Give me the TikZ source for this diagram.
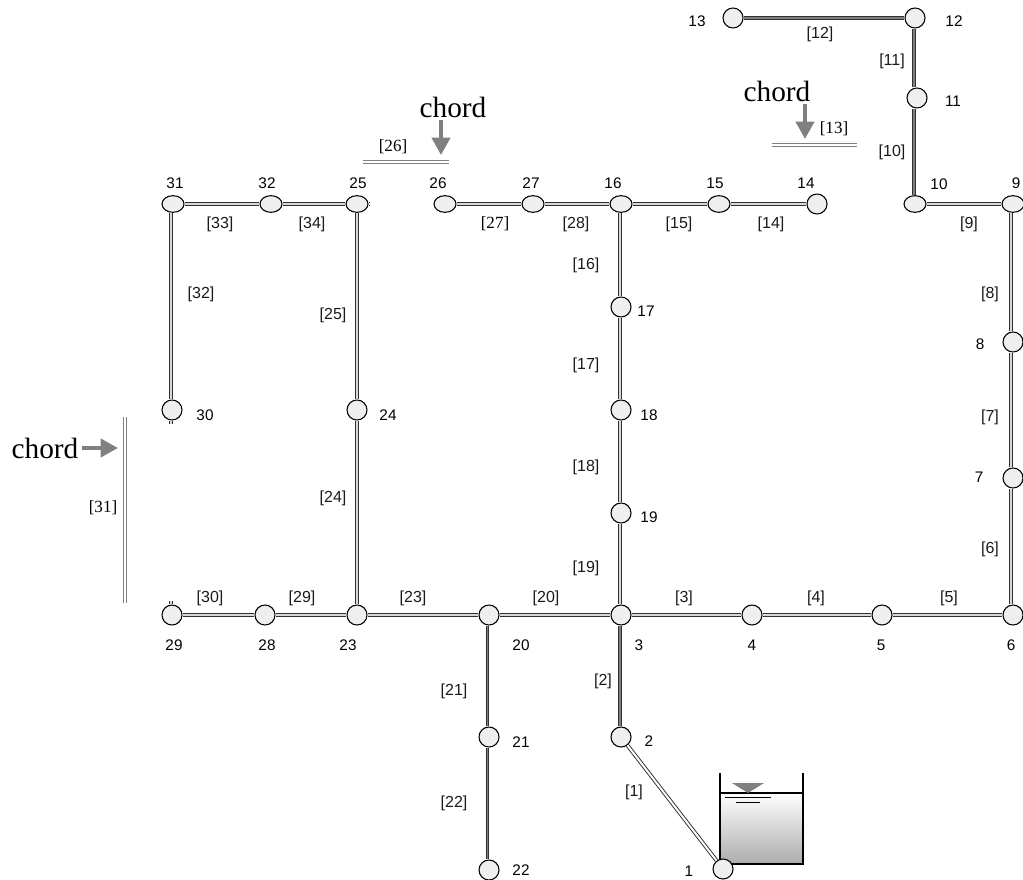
\documentclass[tikz,border=0pt]{standalone}
\usepackage{xcolor}
\usepackage{fontspec}
\setmainfont{Liberation Sans}
\newfontfamily\chordfont{Liberation Serif}
\usetikzlibrary{calc,positioning,shapes.geometric,arrows.meta}
\definecolor{pipeline}{HTML}{303030}
\definecolor{pipecore}{HTML}{D8D8D8}
\definecolor{junction}{HTML}{EFEFEF}
\definecolor{chordgray}{HTML}{808080}
\definecolor{tankgray}{HTML}{ACACAC}
\definecolor{labeltext}{HTML}{1A1A1A}
\begin{document}
\begin{tikzpicture}[
  x=0.75pt, y=-0.75pt,
  roundnode/.style={
    circle, draw=black, line width=0.8pt, fill=junction,
    minimum size=15pt, inner sep=0pt,
  },
  flatnode/.style={
    ellipse, draw=black, line width=0.8pt, fill=junction,
    minimum width=16.5pt, minimum height=12.5pt, inner sep=0pt,
  },
  numlabel/.style={font=\fontsize{11.5}{13}\selectfont, text=black, inner sep=0pt},
  pipelabel/.style={font=\fontsize{12}{14}\selectfont, text=labeltext, inner sep=0pt},
  seriflabel/.style={font=\chordfont\fontsize{12.8}{14}\selectfont, text=black, inner sep=0pt},
  chordlabel/.style={font=\chordfont\fontsize{22}{24}\selectfont, anchor=base, inner sep=0pt},
  pipe/.style={draw=pipeline, line width=0.85pt, double=pipecore, double distance=1pt},
  darkpipe/.style={draw=pipeline, line width=0.85pt, double=gray, double distance=1pt},
  openpipe/.style={draw=pipeline, line width=0.7pt, double=white, double distance=1.5pt},
  chordline/.style={draw=chordgray, line width=0.9pt, double=white, double distance=1pt},
  chordarrow/.style={draw=chordgray, line width=3pt, -{Triangle[length=13pt,width=13.5pt]}},
]
\useasboundingbox (0,0) rectangle (1023,880);

% Tank
\shade[top color=white, bottom color=tankgray] (720,793) rectangle (803,864);
\draw[line width=0.8pt] (803,793) -- (720,793);
\draw[line width=0.9pt] (720,773) -- (720,864) -- (803,864) -- (803,773);
\fill[gray] (732,783) -- (764,783) -- (748,793) -- cycle;
\draw[line width=0.7pt] (725,797) -- (771,797);
\draw[line width=0.7pt] (736,802) -- (760,802);

% Lower main
\node[roundnode] (n1) at (723, 869) {};
\node[roundnode] (n2) at (621, 737) {};
\node[roundnode] (n3) at (621, 615) {};
\node[roundnode] (n4) at (752, 615) {};
\node[roundnode] (n5) at (882, 615) {};
\node[roundnode] (n6) at (1013, 615) {};
\node[roundnode] (n7) at (1013, 478) {};
\node[roundnode] (n8) at (1013, 342) {};
\node[flatnode] (n9) at (1013, 204) {};
\node[flatnode] (n10) at (915, 204) {};
\node[roundnode] (n11) at (917, 98) {};
\node[roundnode] (n12) at (915, 18) {};
\node[roundnode] (n13) at (733, 18) {};

% Upper main
\node[roundnode] (n14) at (817, 204) {};
\node[flatnode] (n15) at (719, 204) {};
\node[flatnode] (n16) at (621, 204) {};
\node[roundnode] (n17) at (621, 307) {};
\node[roundnode] (n18) at (621, 410) {};
\node[roundnode] (n19) at (621, 513) {};
\node[roundnode] (n20) at (489, 615) {};
\node[roundnode] (n21) at (489, 737) {};
\node[roundnode] (n22) at (489, 870) {};
\node[roundnode] (n23) at (357, 615) {};
\node[roundnode] (n24) at (357, 410) {};
\node[flatnode] (n25) at (357, 204) {};
\node[flatnode] (n26) at (445, 204) {};
\node[flatnode] (n27) at (533, 204) {};
\node[roundnode] (n28) at (265, 615) {};
\node[roundnode] (n29) at (172, 615) {};
\node[roundnode] (n30) at (172, 410) {};
\node[flatnode] (n31) at (173, 204) {};
\node[flatnode] (n32) at (271, 204) {};

% Free ends
\coordinate (e25) at (370, 204);
\coordinate (e29) at (171, 601);
\coordinate (e30) at (171, 424);

% Pipes
\draw[openpipe] (n2) -- (n1);
\draw[darkpipe] ([xshift=-0.75pt]n3.south) -- ([xshift=-0.75pt]n2.north);
\draw[pipe] (n3) -- (n4);
\draw[pipe] (n4) -- (n5);
\draw[pipe] (n5) -- (n6);
\draw[pipe] ([xshift=-1.5pt]n6.north) -- ([xshift=-1.5pt]n7.south);
\draw[pipe] ([xshift=-1.5pt]n7.north) -- ([xshift=-1.5pt]n8.south);
\draw[pipe] ([xshift=-1.5pt]n8.north) -- ([xshift=-1.5pt]n9.south);
\draw[pipe] (n9) -- (n10);
\draw[darkpipe] ([xshift=-0.75pt]n10.north) -- ([xshift=-0.75pt]n10.north |- n11.south);
\draw[darkpipe] ([xshift=-0.75pt]n10.north |- n11.north) -- ([xshift=-0.75pt]n12.south);
\draw[darkpipe] (n12) -- (n13);
\draw[pipe] (n15) -- (n14);
\draw[pipe] (n16) -- (n15);
\draw[pipe] ([xshift=-0.75pt]n16.south) -- ([xshift=-0.75pt]n17.north);
\draw[pipe] ([xshift=-0.75pt]n17.south) -- ([xshift=-0.75pt]n18.north);
\draw[pipe] ([xshift=-0.75pt]n18.south) -- ([xshift=-0.75pt]n19.north);
\draw[pipe] ([xshift=-0.75pt]n19.south) -- ([xshift=-0.75pt]n3.north);
\draw[pipe] (n20) -- (n3);
\draw[darkpipe] ([xshift=-1pt]n20.south) -- ([xshift=-1pt]n21.north);
\draw[darkpipe] ([xshift=-1pt]n21.south) -- ([xshift=-1pt]n22.north);
\draw[pipe] (n23) -- (n20);
\draw[pipe] (n23.north) -- (n24.south);
\draw[pipe] (n24.north) -- (n25.south);
\draw[pipe] (n25) -- (e25);
\draw[pipe] (n26) -- (n27);
\draw[pipe] (n27) -- (n16);
\draw[pipe] (n28) -- (n23);
\draw[pipe] (n29) -- (n28);
\draw[pipe] (e29) -- ([xshift=-0.75pt]n29.north);
\draw[pipe] ([xshift=-1.5pt]n31.south) -- ([xshift=-0.75pt]n30.north);
\draw[pipe] ([xshift=-0.75pt]n30.south) -- (e30);
\draw[pipe] (n31) -- (n32);
\draw[pipe] (n32) -- (n25);

% Node numbers
\node[numlabel] (l1) at (689, 871) {1};
\node[numlabel] (l2) at (649, 741) {2};
\node[numlabel] (l3) at (639, 645) {3};
\node[numlabel] (l4) at (752, 645) {4};
\node[numlabel] (l5) at (881, 645) {5};
\node[numlabel] (l6) at (1011, 645) {6};
\node[numlabel] (l7) at (979, 477) {7};
\node[numlabel] (l8) at (980, 344) {8};
\node[numlabel] (l9) at (1016, 183) {9};
\node[numlabel] (l10) at (939, 184) {10};
\node[numlabel] (l11) at (953, 101) {11};
\node[numlabel] (l12) at (954, 21) {12};
\node[numlabel] (l13) at (697, 21) {13};
\node[numlabel] (l14) at (806, 183) {14};
\node[numlabel] (l15) at (715, 183) {15};
\node[numlabel] (l16) at (613, 183) {16};
\node[numlabel] (l17) at (646, 311) {17};
\node[numlabel] (l18) at (649, 415) {18};
\node[numlabel] (l19) at (649, 517) {19};
\node[numlabel] (l20) at (521, 645) {20};
\node[numlabel] (l21) at (521, 742) {21};
\node[numlabel] (l22) at (521, 870) {22};
\node[numlabel] (l23) at (348, 645) {23};
\node[numlabel] (l24) at (388, 415) {24};
\node[numlabel] (l25) at (358, 183) {25};
\node[numlabel] (l26) at (438, 183) {26};
\node[numlabel] (l27) at (531, 183) {27};
\node[numlabel] (l28) at (267, 645) {28};
\node[numlabel] (l29) at (174, 645) {29};
\node[numlabel] (l30) at (205, 415) {30};
\node[numlabel] (l31) at (175, 183) {31};
\node[numlabel] (l32) at (267, 183) {32};

% Pipe numbers
\node[pipelabel] (p1) at (634, 792) {[1]};
\node[pipelabel] (p2) at (603, 681) {[2]};
\node[pipelabel] (p3) at (684, 598) {[3]};
\node[pipelabel] (p4) at (816, 598) {[4]};
\node[pipelabel] (p5) at (949, 598) {[5]};
\node[pipelabel] (p6) at (990, 549) {[6]};
\node[pipelabel] (p7) at (990, 417) {[7]};
\node[pipelabel] (p8) at (990, 294) {[8]};
\node[pipelabel] (p9) at (969, 224) {[9]};
\node[pipelabel] (p10) at (892, 152) {[10]};
\node[pipelabel] (p11) at (892, 61) {[11]};
\node[pipelabel] (p12) at (820, 34) {[12]};
\node[seriflabel] (p13) at (834, 129) {[13]};
\node[pipelabel] (p14) at (771, 224) {[14]};
\node[pipelabel] (p15) at (679, 224) {[15]};
\node[pipelabel] (p16) at (586, 265) {[16]};
\node[pipelabel] (p17) at (586, 365) {[17]};
\node[pipelabel] (p18) at (586, 467) {[18]};
\node[pipelabel] (p19) at (586, 568) {[19]};
\node[pipelabel] (p20) at (546, 598) {[20]};
\node[pipelabel] (p21) at (454, 691) {[21]};
\node[pipelabel] (p22) at (454, 803) {[22]};
\node[pipelabel] (p23) at (413, 598) {[23]};
\node[pipelabel] (p24) at (333, 498) {[24]};
\node[pipelabel] (p25) at (333, 315) {[25]};
\node[seriflabel] (p26) at (393, 147) {[26]};
\node[seriflabel] (p27) at (495, 224) {[27]};
\node[pipelabel] (p28) at (576, 224) {[28]};
\node[pipelabel] (p29) at (302, 598) {[29]};
\node[pipelabel] (p30) at (210, 598) {[30]};
\node[seriflabel] (p31) at (103, 508) {[31]};
\node[pipelabel] (p32) at (201, 294) {[32]};
\node[pipelabel] (p33) at (220, 224) {[33]};
\node[pipelabel] (p34) at (312, 224) {[34]};

% Chords
\coordinate (c26a) at (363, 162);
\coordinate (c26b) at (449, 162);
\coordinate (c13a) at (772, 145);
\coordinate (c13b) at (857, 145);
\coordinate (c31a) at (125, 417);
\coordinate (c31b) at (125, 603);
\draw[chordline] (c26a) -- (c26b);
\draw[chordline] (c13a) -- (c13b);
\draw[chordline] (c31a) -- (c31b);

\node[chordlabel] (chord26) at (453, 118) {chord};
\node[chordlabel] (chord13) at (777, 102) {chord};
\node[chordlabel] (chord31) at (45, 458) {chord};

\coordinate (s26) at (441, 120);
\coordinate (s13) at (805, 104);
\coordinate (s31) at (82, 448);
\coordinate (t26) at (441, 155);
\coordinate (t13) at (805, 139);
\coordinate (t31) at (118, 448);
\draw[chordarrow] (s26) -- (t26);
\draw[chordarrow] (s13) -- (t13);
\draw[chordarrow] (s31) -- (t31);

\end{tikzpicture}
\end{document}
